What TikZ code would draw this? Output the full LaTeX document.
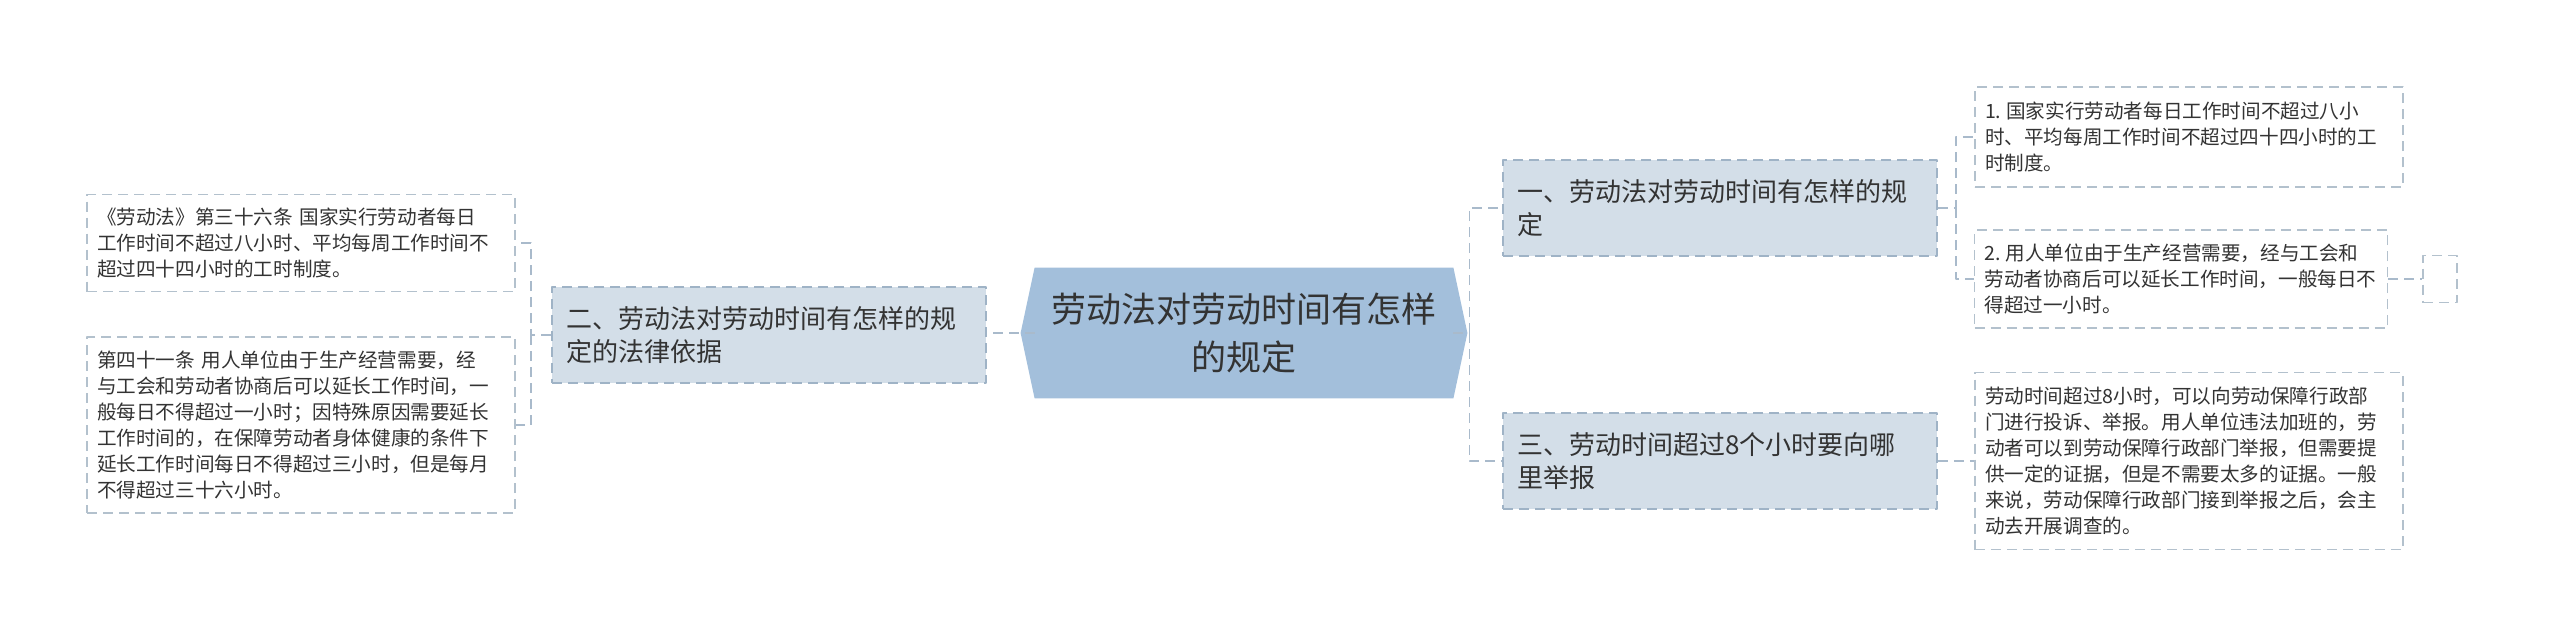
\documentclass[tikz,border=0pt]{standalone}
\usepackage{fontspec}
\setmainfont{Noto Sans CJK SC}
\usetikzlibrary{backgrounds}
\definecolor{rootblue}{HTML}{A3BFDB}
\definecolor{childfill}{HTML}{D3DEE8}
\definecolor{childline}{HTML}{9FB3C6}
\definecolor{leafline}{HTML}{B3C1CD}
\definecolor{linkcolor}{HTML}{A9BACB}
\definecolor{inkgray}{HTML}{333333}
\begin{document}
\begin{tikzpicture}[x=0.5pt, y=-0.5pt, line join=round, text=inkgray,
	rootnode/.style={minimum width=209pt, minimum height=65pt, inner sep=0pt, align=center,
		font=\fontsize{17.5pt}{24pt}\selectfont},
	childbox/.style={draw=childline, fill=childfill, dash pattern=on 5pt off 3pt, line width=0.8pt,
		text width=203pt, inner xsep=7pt, minimum height=48pt, align=left,
		font=\fontsize{13pt}{16.5pt}\selectfont},
	leafbox/.style={draw=leafline, fill=white, dash pattern=on 5pt off 3pt, line width=0.8pt,
		text width=204pt, inner xsep=5pt, align=left,
		font=\fontsize{9.8pt}{13pt}\selectfont},
	link/.style={draw=linkcolor, dash pattern=on 5pt off 3pt, line width=0.8pt}]
	\useasboundingbox (0,0) rectangle (2560,637);
	
	% centre
	\node[rootnode] (root) at (1244,333) {劳动法对劳动时间有怎样\\的规定};
	\begin{scope}[on background layer]
		\fill[rootblue] (root.north west) -- (root.north east) -- ([xshift=7pt]root.east)
			-- (root.south east) -- (root.south west) -- ([xshift=-7pt]root.west) -- cycle;
	\end{scope}
	
	% branches
	\node[childbox] (law) at (769,335) {二、劳动法对劳动时间有怎样的规\\定的法律依据};
	\node[childbox] (rule) at (1720,208) {一、劳动法对劳动时间有怎样的规\\定};
	\node[childbox] (report) at (1720,461) {三、劳动时间超过8个小时要向哪\\里举报};
	
	% leaves
	\node[leafbox, minimum height=48.5pt] (art36) at (301,243) {《劳动法》第三十六条 国家实行劳动者每日\\工作时间不超过八小时、平均每周工作时间不\\超过四十四小时的工时制度。};
	\node[leafbox, minimum height=88pt] (art41) at (301,425) {第四十一条 用人单位由于生产经营需要，经\\与工会和劳动者协商后可以延长工作时间，一\\般每日不得超过一小时；因特殊原因需要延长\\工作时间的，在保障劳动者身体健康的条件下\\延长工作时间每日不得超过三小时，但是每月\\不得超过三十六小时。};
	\node[leafbox, minimum height=50pt] (hours) at (2189,137) {1.\hspace{0.25em}国家实行劳动者每日工作时间不超过八小\\时、平均每周工作时间不超过四十四小时的工\\时制度。};
	\node[leafbox, text width=196.5pt, minimum height=49pt] (extend) at (2181,279) {2.\hspace{0.25em}用人单位由于生产经营需要，经与工会和\\劳动者协商后可以延长工作时间，一般每日不\\得超过一小时。};
	\node[leafbox, minimum height=88.5pt] (complain) at (2189,461) {劳动时间超过8小时，可以向劳动保障行政部\\门进行投诉、举报。用人单位违法加班的，劳\\动者可以到劳动保障行政部门举报，但需要提\\供一定的证据，但是不需要太多的证据。一般\\来说，劳动保障行政部门接到举报之后，会主\\动去开展调查的。};
	\node[leafbox, text width=0pt, inner xsep=8.5pt, minimum height=23.5pt] (blank) at (2440,279) {};
	
	% connectors
	\coordinate (rj) at ([xshift=8pt]root.east);
	\coordinate (lj) at ([xshift=-10pt]law.west);
	\coordinate (uj) at ([xshift=9pt]rule.east);
	\draw[link] (root.west) -- (root.west -| law.east);
	\draw[link] (root.east) -- (rj) |- (rule.west);
	\draw[link] (rj) |- (report.west);
	\draw[link] (law.west) -- (lj) |- (art36.east);
	\draw[link] (lj) |- (art41.east);
	\draw[link] (rule.east) -- (uj) |- (hours.west);
	\draw[link] (uj) |- (extend.west);
	\draw[link] (report.east) -- (report.east -| complain.west);
	\draw[link] (extend.east) -- (blank.west);
\end{tikzpicture}
\end{document}
